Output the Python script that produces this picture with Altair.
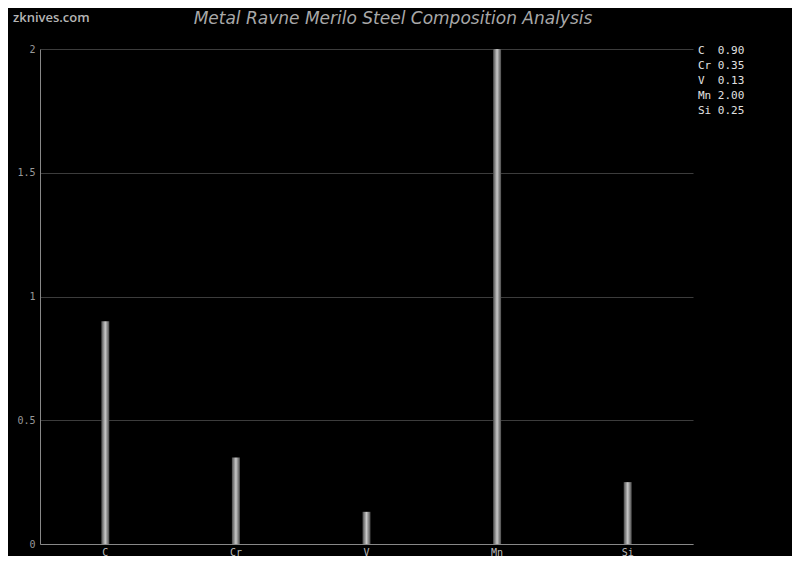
import altair as alt
import pandas as pd

elements = ["C", "Cr", "V", "Mn", "Si"]
values = [0.90, 0.35, 0.13, 2.00, 0.25]
legend_labels = ["C\u00a0\u00a00.90", "Cr\u00a00.35", "V\u00a0\u00a00.13", "Mn\u00a02.00", "Si\u00a00.25"]
y_ticks = [0, 0.5, 1, 1.5, 2]
title_text = ["Metal Ravne Merilo Steel Composition Analysis"]
watermark = ["zknives.com"]

df = pd.DataFrame({"element": elements, "value": values, "label": legend_labels})
wm = pd.DataFrame({"t": watermark})
tt = pd.DataFrame({"t": title_text})

MONO = "DejaVu Sans Mono"

grad = alt.Gradient(
    gradient="linear",
    stops=[
        alt.GradientStop(color="#4a4a4a", offset=0),
        alt.GradientStop(color="#c8c8c8", offset=0.5),
        alt.GradientStop(color="#4a4a4a", offset=1),
    ],
    x1=0, x2=1, y1=0, y2=0,
)

x_enc = alt.X(
    "element:N",
    sort=elements,
    title=None,
    scale=alt.Scale(paddingInner=0, paddingOuter=0),
    axis=alt.Axis(labelAngle=0, ticks=False, domainColor="#888", labelColor="#bbb",
                  labelFont=MONO, labelFontSize=10, labelPadding=3, grid=False),
)
y_enc = alt.Y(
    "value:Q",
    title=None,
    scale=alt.Scale(domain=[0, 2], nice=False),
    axis=alt.Axis(values=y_ticks, ticks=False, domainColor="#888", labelColor="#999",
                  labelFont=MONO, labelFontSize=10, labelPadding=5, grid=True,
                  labelExpr="format(datum.value, '~g')",
                  gridColor="#3c3c3c", gridWidth=1),
)

bars = alt.Chart(df).mark_bar(size=8, color=grad).encode(x=x_enc, y=y_enc)

legend_layer = alt.Chart(df).mark_point(opacity=0).encode(
    x=alt.X("element:N", sort=elements),
    y=alt.Y("value:Q"),
    color=alt.Color(
        "label:N",
        sort=legend_labels,
        scale=alt.Scale(range=["#000000"]),
        legend=alt.Legend(
            title=None, orient="none", legendX=647, legendY=-4,
            symbolSize=0, symbolOpacity=0, symbolStrokeWidth=0,
            labelFont=MONO, labelFontSize=11, labelFontWeight="normal",
            labelColor="#e0e0e0", rowPadding=3, labelOffset=0, symbolOffset=0,
        ),
    ),
)

wm_layer = alt.Chart(wm).mark_text(
    align="left", baseline="middle", font="Open Sans", fontSize=13, fontWeight=600,
    color="#b5b5b5",
).encode(text="t:N", x=alt.value(-27), y=alt.value(-31))

title_layer = alt.Chart(tt).mark_text(
    align="center", baseline="middle", font="DejaVu Sans", fontSize=17, fontStyle="italic",
    color="#a8a8a8",
).encode(text="t:N", x=alt.value(353), y=alt.value(-30))

chart = alt.layer(bars, legend_layer, wm_layer, title_layer).properties(
    width=653,
    height=495,
    background="#000000",
    autosize=alt.AutoSizeParams(type="none"),
    padding={"left": 32, "top": 41, "right": 99, "bottom": 12},
).configure_view(stroke=None)

chart.save("out.html", embed_options={"renderer": "svg", "actions": False})
